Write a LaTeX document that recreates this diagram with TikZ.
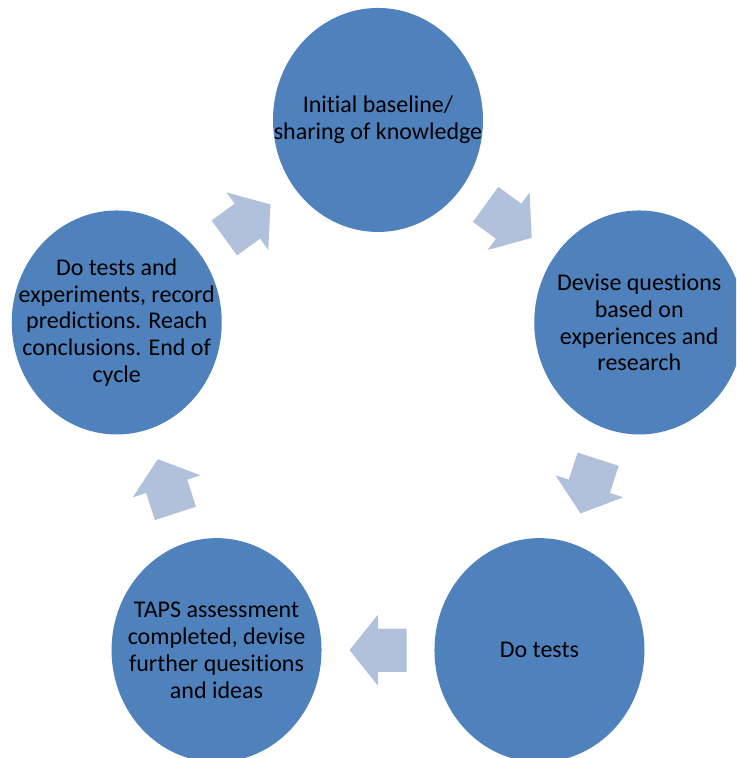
\documentclass[tikz,border=0pt]{standalone}
\usepackage{fontspec}
\setmainfont{Carlito}[Ligatures=NoCommon]
\usetikzlibrary{calc}
\definecolor{stageblue}{HTML}{4F81BD}
\definecolor{arrowblue}{HTML}{B2C1DB}
\begin{document}
\begin{tikzpicture}[x=0.5pt,y=0.5pt,
  stagedisc/.style={fill=stageblue},
  stage/.style={inner sep=0pt, align=center, text=black,
    font=\fontsize{12}{13.4}\selectfont},
  cyclearrow/.pic={
    \fill[arrowblue] (28.5,0) -- (0,35.6) -- (0,21.6) -- (-28.5,21.6)
      -- (-28.5,-21.6) -- (0,-21.6) -- (0,-35.6) -- cycle;}]
\begin{scope}[yscale=1.0667]
  \useasboundingbox (-378,-323.4) rectangle (358,387.2);
  \clip (-378,-323.4) rectangle (358,387.2);
  % centres of the five stages, evenly spaced around the cycle
  \coordinate (c1) at (90:274.7);
  \coordinate (c2) at (18:274.7);
  \coordinate (c3) at (-54:274.7);
  \coordinate (c4) at (-126:274.7);
  \coordinate (c5) at (162:274.7);
  \foreach \c in {c1,c2,c3,c4,c5}
    \fill[stagedisc] (\c) circle [radius=105];
  % stage labels
  \node[stage] (s1) at (c1) {Initial baseline/\\sharing of knowledge};
  \node[stage] (s2) at (c2) {Devise questions\\based on\\experiences and\\research};
  \node[stage] (s3) at (c3) {Do tests};
  \node[stage] (s4) at (c4) {TAPS assessment\\completed, devise\\further quesitions\\and ideas};
  \node[stage] (s5) at (c5) {Do tests and\\experiments, record\\predictions. Reach\\conclusions. End of\\cycle};
  % block arrows halfway between consecutive stages
  \path ($(s1)!0.5!(s2)$) pic[rotate=-36]  {cyclearrow};
  \path ($(s2)!0.5!(s3)$) pic[rotate=-108] {cyclearrow};
  \path ($(s3)!0.5!(s4)$) pic[rotate=180]  {cyclearrow};
  \path ($(s4)!0.5!(s5)$) pic[rotate=108]  {cyclearrow};
  \path ($(s5)!0.5!(s1)$) pic[rotate=36]   {cyclearrow};
\end{scope}
\end{tikzpicture}
\end{document}
